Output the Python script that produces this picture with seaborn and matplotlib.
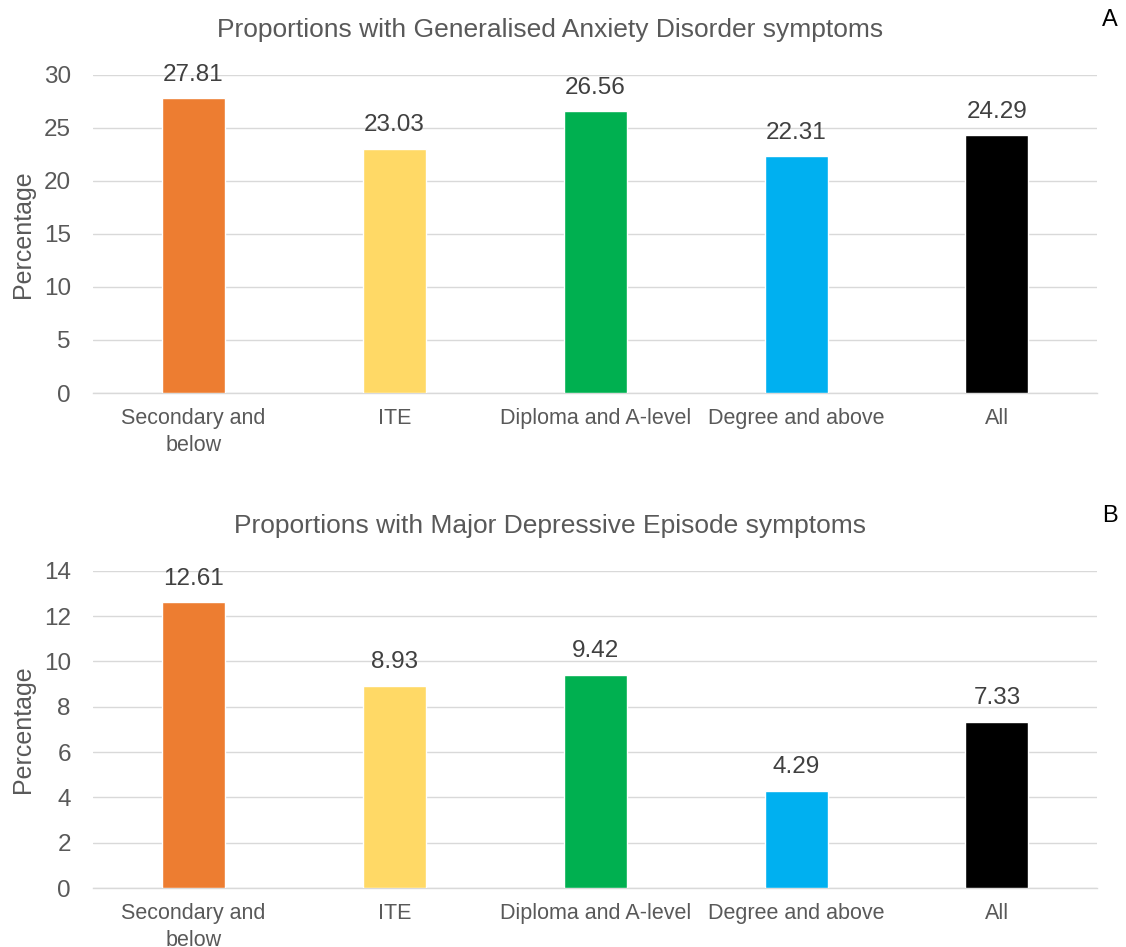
import matplotlib
matplotlib.use("Agg")
import matplotlib.pyplot as plt
import seaborn as sns
import pandas as pd

categories = ["Secondary and\nbelow", "ITE", "Diploma and A-level", "Degree and above", "All"]
gad_values = [27.81, 23.03, 26.56, 22.31, 24.29]
mde_values = [12.61, 8.93, 9.42, 4.29, 7.33]
bar_colors = ["#ED7D31", "#FFD966", "#00B050", "#00B0F0", "#000000"]

sns.set_theme(style="white")
plt.rcParams["font.family"] = ["Liberation Sans", "DejaVu Sans"]

TEXT = "#595959"
GRID = "#D9D9D9"

fig = plt.figure(figsize=(11.26, 9.47), dpi=100)
ax_top = fig.add_axes([0.0826, 0.585, 0.892, 0.336])
ax_bot = fig.add_axes([0.0826, 0.0623, 0.892, 0.335])

panels = [
    (ax_top, gad_values, "Proportions with Generalised Anxiety Disorder symptoms", 30, 5, "A"),
    (ax_bot, mde_values, "Proportions with Major Depressive Episode symptoms", 14, 2, "B"),
]

for ax, values, title, ymax, step, letter in panels:
    df = pd.DataFrame({"Education": categories, "Percentage": values})
    sns.barplot(data=df, x="Education", y="Percentage", hue="Education",
                palette=bar_colors, width=0.314, legend=False, ax=ax,
                saturation=1, zorder=3)
    ax.set_ylim(0, ymax)
    ax.set_xlim(-0.5, len(categories) - 0.5)
    ax.set_yticks(range(0, ymax + 1, step))
    ax.yaxis.grid(True, color=GRID, linewidth=1, zorder=0)
    ax.set_axisbelow(True)
    for side in ["top", "right", "left"]:
        ax.spines[side].set_visible(False)
    ax.spines["bottom"].set_color(GRID)
    ax.spines["bottom"].set_linewidth(1)
    ax.tick_params(axis="both", length=0, colors=TEXT)
    ax.tick_params(axis="y", labelsize=17.5, pad=16)
    ax.tick_params(axis="x", labelsize=15.5, pad=11)
    for lbl in ax.get_xticklabels():
        lbl.set_linespacing(1.35)
    ax.set_xlabel("")
    ax.set_ylabel("Percentage", fontsize=18, color=TEXT, labelpad=6)
    ax.set_title(title, fontsize=19, color=TEXT, pad=27, x=0.455)
    for container in ax.containers:
        ax.bar_label(container, fmt="%.2f", padding=9, fontsize=17.5, color="#404040")
    pos = ax.get_position()
    fig.text(0.993, pos.y1 + 0.058, letter, fontsize=17, color="#000000",
             ha="right", va="center")

fig.savefig("out.png", dpi=100)
